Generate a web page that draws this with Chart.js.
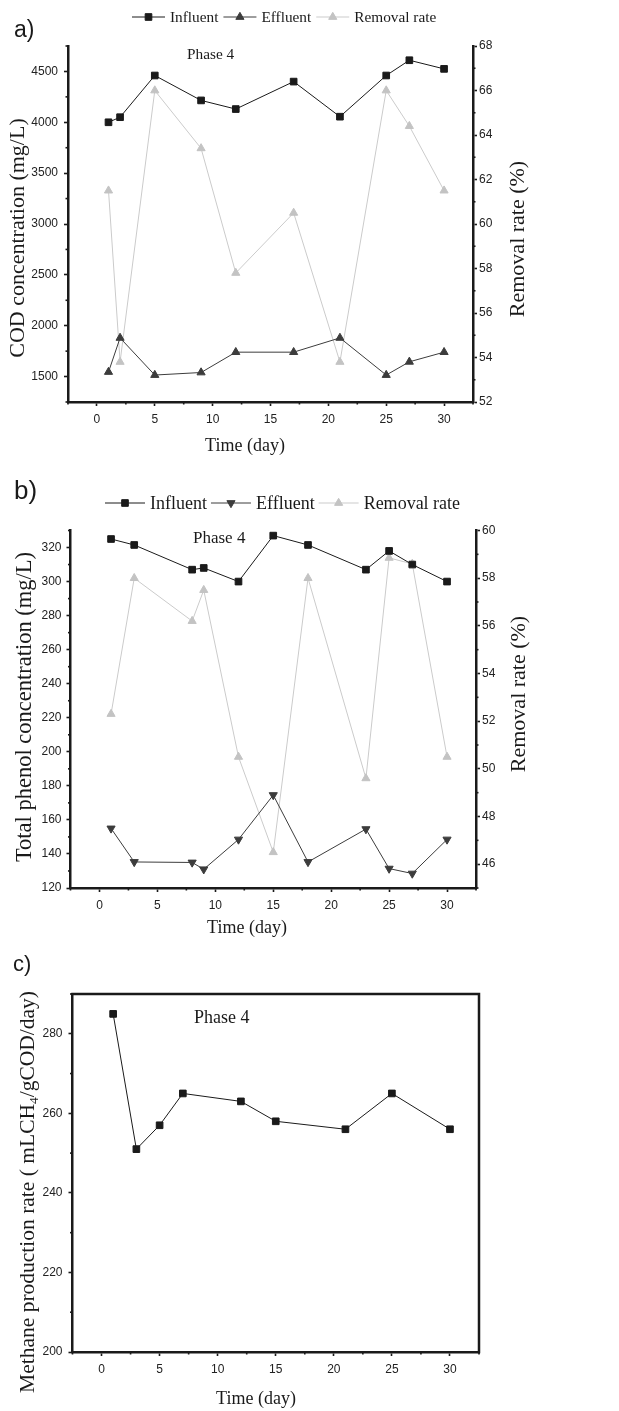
<!DOCTYPE html>
<html><head><meta charset="utf-8">
<script src="https://cdn.jsdelivr.net/npm/chart.js@4.4.0/dist/chart.umd.min.js"></script>
<style>
html,body{margin:0;padding:0;background:#fff;}
body{width:619px;height:1411px;position:relative;overflow:hidden;}
canvas{position:absolute;left:0;display:block;}
</style></head><body>
<canvas id="ca" width="619" height="470" style="top:0px"></canvas>
<canvas id="cb" width="619" height="500" style="top:450px"></canvas>
<canvas id="cc" width="619" height="461" style="top:950px"></canvas>
<script>
// ---------- data ----------
const dayA = [1, 2, 5, 9, 12, 17, 21, 25, 27, 30];
const codInfluent = [4000, 4050, 4460, 4215, 4130, 4400, 4055, 4460, 4610, 4525];
const codEffluent = [1545, 1880, 1515, 1540, 1740, 1740, 1880, 1515, 1645, 1740];
const codRemoval = [61.5, 53.8, 66.0, 63.4, 57.8, 60.5, 53.8, 66.0, 64.4, 61.5];

const dayB = [1, 3, 8, 9, 12, 15, 18, 23, 25, 27, 30];
const phenolInfluent = [325, 321.5, 307, 308, 300, 327, 321.5, 307, 318, 310, 300];
const phenolEffluent = [155, 135.3, 135, 131, 148.5, 174.6, 135.3, 154.6, 131.4, 128.5, 148.5];
const phenolRemoval = [52.3, 58.0, 56.2, 57.5, 50.5, 46.5, 58.0, 49.6, 58.85, 58.6, 50.5];

const dayC = [1, 3, 5, 7, 12, 15, 21, 25, 30];
const methaneRate = [285, 251, 257, 265, 263, 258, 256, 265, 256];

const timeTicks = [0, 5, 10, 15, 20, 25, 30];
const codTicks = [1500, 2000, 2500, 3000, 3500, 4000, 4500];
const codRemovalTicks = [52, 54, 56, 58, 60, 62, 64, 66, 68];
const phenolTicks = [120, 140, 160, 180, 200, 220, 240, 260, 280, 300, 320];
const phenolRemovalTicks = [46, 48, 50, 52, 54, 56, 58, 60];
const methaneTicks = [200, 220, 240, 260, 280];

const seriesLabels = ['Influent', 'Effluent', 'Removal rate'];

// ---------- styles ----------
const INK = '#1a1a1a';
const EFF = '#3c3c3c';
const GRAY = '#c3c3c3';
const GRAYLINE = '#cbcbcb';
const SERIF = '"Liberation Serif", "Times New Roman", serif';
const SANS = '"Liberation Sans", Arial, sans-serif';

function pts(xs, ys) { return xs.map((x, i) => ({ x: x, y: ys[i] })); }

function ds(label, data, color, style, rot, axis, lineColor) {
  return {
    label: label, data: data, yAxisID: axis, showLine: true,
    borderColor: lineColor || color, borderWidth: 1,
    pointStyle: style, rotation: rot,
    pointRadius: 4.7,
    pointBackgroundColor: color, pointBorderColor: color, pointBorderWidth: 1,
    tension: 0
  };
}

function axis(min, max, ticks, pad, extra) {
  return Object.assign({
    type: 'linear', min: min, max: max,
    afterBuildTicks: s => { s.ticks = ticks.map(v => ({ value: v })); },
    grid: { drawOnChartArea: false, drawTicks: true, tickLength: 4, tickWidth: 1.6, tickColor: INK },
    border: { display: true, width: 2.5, color: INK },
    ticks: { autoSkip: false, maxRotation: 0, padding: pad, color: '#222',
      font: { family: SANS, size: 12 }, callback: v => String(v) },
    title: { display: false }
  }, extra);
}

function makeDeco(d) {
  return {
    id: 'deco',
    afterDraw(chart) {
      const ctx = chart.ctx, a = chart.chartArea;
      ctx.save();
      if (d.box) {
        ctx.strokeStyle = INK; ctx.lineWidth = 2.5; ctx.lineCap = 'square';
        ctx.beginPath(); ctx.moveTo(a.left, a.top); ctx.lineTo(a.right, a.top); ctx.lineTo(a.right, a.bottom); ctx.stroke();
      }
      ctx.strokeStyle = INK; ctx.lineWidth = 1.6; ctx.lineCap = 'butt';
      (d.minor || []).forEach(m => {
        const s = chart.scales[m.id];
        const majors = s.ticks.map(t => t.value);
        const n = Math.round((s.max - s.min) / m.step);
        for (let i = 0; i <= n; i++) {
          const v = s.min + i * m.step;
          if (majors.some(mv => Math.abs(mv - v) < 1e-6)) continue;
          const p = s.getPixelForValue(v);
          const L = 2.5;
          ctx.beginPath();
          if (s.position === 'bottom') { ctx.moveTo(p, a.bottom); ctx.lineTo(p, a.bottom + L); }
          else if (s.position === 'left') { ctx.moveTo(a.left, p); ctx.lineTo(a.left - L, p); }
          else { ctx.moveTo(a.right, p); ctx.lineTo(a.right + L, p); }
          ctx.stroke();
        }
      });
      if (d.legend) {
        const lg = d.legend;
        ctx.font = lg.font; ctx.textBaseline = 'middle'; ctx.textAlign = 'left';
        let x = lg.x;
        chart.data.datasets.forEach(dset => {
          ctx.strokeStyle = dset.borderColor; ctx.lineWidth = 1;
          ctx.beginPath(); ctx.moveTo(x, lg.y); ctx.lineTo(x + lg.line, lg.y); ctx.stroke();
          ctx.fillStyle = dset.pointBackgroundColor; ctx.strokeStyle = dset.pointBorderColor;
          Chart.helpers.drawPoint(ctx, { pointStyle: dset.pointStyle, rotation: dset.rotation || 0,
            radius: dset.pointRadius, borderWidth: 1 }, x + lg.line / 2, lg.y);
          x += lg.line + lg.g1;
          ctx.fillStyle = '#1a1a1a';
          ctx.fillText(dset.label, x, lg.y + 1);
          x += ctx.measureText(dset.label).width + lg.g2;
        });
      }
      (d.texts || []).forEach(t => {
        ctx.font = t.font; ctx.fillStyle = '#1a1a1a';
        ctx.textAlign = t.align || 'left'; ctx.textBaseline = t.base || 'alphabetic';
        ctx.fillText(t.t, t.x, t.y);
      });
      (d.titles || []).forEach(t => {
        ctx.save();
        ctx.translate(t.x, t.y);
        if (t.rot) ctx.rotate(t.rot * Math.PI / 180);
        ctx.fillStyle = '#1a1a1a'; ctx.textBaseline = 'middle'; ctx.textAlign = 'left';
        const big = t.size + 'px ' + SERIF, small = (t.size * 0.62) + 'px ' + SERIF;
        const parts = t.parts || [{ s: t.t }];
        let W = 0;
        parts.forEach(p => { ctx.font = p.sub ? small : big; p.w = ctx.measureText(p.s).width; W += p.w; });
        let x = -W / 2;
        parts.forEach(p => {
          ctx.font = p.sub ? small : big;
          ctx.fillText(p.s, x, p.sub ? t.size * 0.32 : 0);
          x += p.w;
        });
        ctx.restore();
      });
      ctx.restore();
    }
  };
}

function baseOptions(top, right, scales) {
  return {
    responsive: false, animation: false, events: [],
    layout: { padding: { top: top, left: 0, right: right, bottom: 0 } },
    plugins: { legend: { display: false }, tooltip: { enabled: false }, title: { display: false } },
    scales: scales
  };
}

// ---------- panel a ----------
new Chart(document.getElementById('ca'), {
  type: 'scatter',
  data: { datasets: [
    ds(seriesLabels[0], pts(dayA, codInfluent), INK, 'rect', 0, 'y'),
    ds(seriesLabels[1], pts(dayA, codEffluent), EFF, 'triangle', 0, 'y'),
    ds(seriesLabels[2], pts(dayA, codRemoval), GRAY, 'triangle', 0, 'y1', GRAYLINE)
  ] },
  options: baseOptions(46, 0, {
    x: axis(-2.5, 32.5, timeTicks, 6.5, { position: 'bottom', afterFit: s => { s.height = 470 - 402; } }),
    y: axis(1250, 4750, codTicks, 6, { position: 'left', afterFit: s => { s.width = 68; } }),
    y1: axis(52, 68, codRemovalTicks, 2, { position: 'right', afterFit: s => { s.width = 619 - 473; } })
  }),
  plugins: [makeDeco({
    minor: [{ id: 'x', step: 2.5 }, { id: 'y', step: 250 }, { id: 'y1', step: 1 }],
    legend: { x: 132, y: 17, line: 33, g1: 5, g2: 5, font: '15.3px ' + SERIF },
    texts: [
      { t: 'a)', x: 14, y: 37, font: '23px ' + SANS },
      { t: 'Phase 4', x: 187, y: 55, font: '15.3px ' + SERIF, base: 'middle' }
    ],
    titles: [
      { t: 'COD concentration (mg/L)', x: 18, y: 238, size: 22, rot: -90 },
      { t: 'Removal rate (%)', x: 518, y: 239, size: 22, rot: -90 },
      { t: 'Time (day)', x: 245, y: 446, size: 18, rot: 0 }
    ]
  })]
});

// ---------- panel b ----------
new Chart(document.getElementById('cb'), {
  type: 'scatter',
  data: { datasets: [
    ds(seriesLabels[0], pts(dayB, phenolInfluent), INK, 'rect', 0, 'y'),
    ds(seriesLabels[1], pts(dayB, phenolEffluent), EFF, 'triangle', 180, 'y'),
    ds(seriesLabels[2], pts(dayB, phenolRemoval), GRAY, 'triangle', 0, 'y1', GRAYLINE)
  ] },
  options: baseOptions(80.5, 0, {
    x: axis(-2.5, 32.5, timeTicks, 6, { position: 'bottom', afterFit: s => { s.height = 500 - 438; } }),
    y: axis(120, 330, phenolTicks, 5, { position: 'left', afterFit: s => { s.width = 70.5; } }),
    y1: axis(45, 60, phenolRemovalTicks, 2, { position: 'right', afterFit: s => { s.width = 619 - 476; } })
  }),
  plugins: [makeDeco({
    minor: [{ id: 'x', step: 2.5 }, { id: 'y', step: 10 }, { id: 'y1', step: 1 }],
    legend: { x: 105, y: 53, line: 40, g1: 5, g2: 4, font: '18px ' + SERIF },
    texts: [
      { t: 'b)', x: 14, y: 49, font: '26px ' + SANS },
      { t: 'Phase 4', x: 193, y: 89, font: '17px ' + SERIF, base: 'middle' }
    ],
    titles: [
      { t: 'Total phenol concentration (mg/L)', x: 25, y: 257, size: 22.5, rot: -90 },
      { t: 'Removal rate (%)', x: 519, y: 244, size: 22, rot: -90 },
      { t: 'Time (day)', x: 247, y: 478, size: 18, rot: 0 }
    ]
  })]
});

// ---------- panel c ----------
new Chart(document.getElementById('cc'), {
  type: 'scatter',
  data: { datasets: [
    ds('Methane production rate', pts(dayC, methaneRate), INK, 'rect', 0, 'y')
  ] },
  options: baseOptions(44, 619 - 479, {
    x: axis(-2.5, 32.5, timeTicks, 6, { position: 'bottom', afterFit: s => { s.height = 461 - 402; } }),
    y: axis(200, 290, methaneTicks, 6, { position: 'left', afterFit: s => { s.width = 72.5; } })
  }),
  plugins: [makeDeco({
    box: true,
    minor: [{ id: 'x', step: 2.5 }, { id: 'y', step: 10 }],
    texts: [
      { t: 'c)', x: 13, y: 21, font: '22px ' + SANS },
      { t: 'Phase 4', x: 194, y: 68, font: '18px ' + SERIF, base: 'middle' }
    ],
    titles: [
      { parts: [{ s: 'Methane production rate ( mLCH' }, { s: '4', sub: true }, { s: '/gCOD/day)' }], x: 28, y: 242, size: 21.5, rot: -90 },
      { t: 'Time (day)', x: 256, y: 449, size: 18, rot: 0 }
    ]
  })]
});
</script>
</body></html>
